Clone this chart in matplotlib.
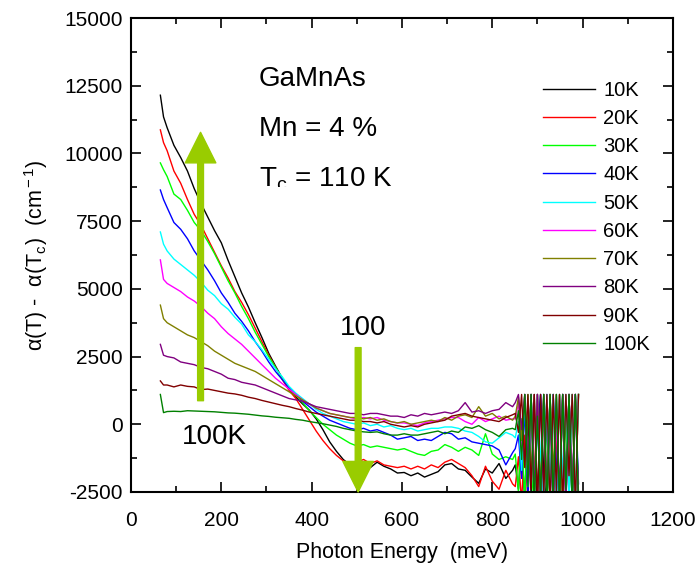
import numpy as np
import matplotlib
matplotlib.use('Agg')
import matplotlib.pyplot as plt
from matplotlib.ticker import MultipleLocator
from matplotlib.transforms import Bbox, TransformedBbox

plt.rcParams['font.family'] = ['Liberation Sans', 'DejaVu Sans']
plt.rcParams['mathtext.fontset'] = 'custom'
plt.rcParams['mathtext.rm'] = 'Liberation Sans'
plt.rcParams['mathtext.it'] = 'Liberation Sans:italic'
plt.rcParams['mathtext.sf'] = 'Liberation Sans'
plt.rcParams['axes.unicode_minus'] = False

# photon energy grid (meV): smooth part then the noisy high-energy tail
energy_smooth = [65, 72] + list(range(80, 846, 15))
energy_noise = list(range(851, 995, 7))
energy = np.array(energy_smooth + energy_noise)

labels = ['10K', '20K', '30K', '40K', '50K', '60K', '70K', '80K', '90K', '100K']
colors = ['#000000', '#ff0000', '#00ff00', '#0000ff', '#00ffff',
          '#ff00ff', '#808000', '#800080', '#800000', '#008000']

d10 = [12150, 11350, 10950, 10300, 9850, 9350, 8700, 8150, 7650, 7150, 6700, 6050, 5450, 4850,
       4330, 3750, 3200, 2620, 2150, 1700, 1300, 1000, 750, 520, 200, -200, -650, -1000, -1300,
       -1500, -1650, -1450, -1600, -1400, -1550, -1650, -1800, -1780, -1900, -1800, -1950, -1850,
       -1750, -1500, -1450, -1650, -1700, -1950, -2180, -1650, -1800, -1450, -2000, -1700]
d20 = [10870, 10400, 10100, 9350, 8900, 8300, 7750, 7350, 6850, 6350, 5850, 5400, 4900, 4500,
       4050, 3550, 3050, 2550, 2100, 1650, 1250, 950, 550, 150, -250, -600, -900, -1150, -1350,
       -1450, -1400, -1300, -1450, -1350, -1500, -1550, -1600, -1550, -1650, -1550, -1650, -1500,
       -1600, -1400, -1300, -1450, -1600, -1900, -2300, -1550, -2100, -2400, -1700, -2200]
d30 = [9650, 9400, 9150, 8500, 8300, 7900, 7450, 7150, 6750, 6300, 5800, 5300, 4850, 4350,
       3900, 3400, 2950, 2500, 2100, 1700, 1350, 1100, 800, 500, 250, 0, -200, -400, -550,
       -700, -800, -750, -850, -800, -850, -900, -950, -900, -1000, -1100, -1150, -1000,
       -950, -750, -850, -1000, -850, -950, -1150, -350, -1100, -1300, -1200, -1300]
d40 = [8650, 8300, 8000, 7450, 7200, 6850, 6400, 6050, 5700, 5300, 4850, 4500, 4100, 3800,
       3450, 3050, 2700, 2300, 1950, 1650, 1350, 1100, 850, 650, 450, 300, 150, 50, -50,
       -150, -200, -150, -250, -200, -300, -400, -550, -500, -450, -600, -550, -600,
       -450, -300, -350, -550, -500, -650, -700, -750, -800, -950, -1500, -1050]
d50 = [7100, 6650, 6400, 6100, 5900, 5700, 5500, 5250, 4950, 4750, 4450, 4250, 3950, 3700,
       3300, 3050, 2750, 2400, 2050, 1750, 1400, 1150, 950, 750, 550, 400, 300, 200, 100,
       50, 0, 50, -50, 0, -100, -50, -150, -200, -150, -250, -200, -150,
       -150, -100, -100, -150, -250, -300, -450, -650, -700, -500, -300, -400]
d60 = [6070, 5350, 5200, 5050, 4900, 4700, 4550, 4350, 4100, 3900, 3600, 3350, 3150, 2950,
       2700, 2450, 2200, 1950, 1700, 1500, 1300, 1100, 900, 750, 600, 500, 400, 350, 300,
       250, 200, 250, 200, 250, 150, 100, 50, 50, 0, -50, 50, 100,
       150, 200, 250, 250, 100, 0, 250, 100, 200, 300, 150, 200]
d70 = [4400, 3900, 3750, 3600, 3450, 3300, 3200, 3050, 2900, 2700, 2550, 2400, 2250, 2150,
       2050, 1950, 1800, 1650, 1500, 1350, 1200, 1050, 900, 750, 600, 500, 400, 350, 300,
       250, 250, 200, 250, 150, 200, 100, 50, 100, 0, 50, 100, 150,
       100, 250, 150, 300, 350, 250, 650, 300, 400, 200, 300, 150]
d80 = [2950, 2550, 2500, 2450, 2300, 2250, 2200, 2100, 2050, 1950, 1850, 1700, 1650, 1550,
       1500, 1450, 1350, 1250, 1150, 1050, 950, 900, 850, 750, 650, 600, 550, 500, 450,
       400, 400, 350, 400, 400, 350, 300, 300, 250, 350, 300, 400, 350,
       400, 450, 400, 500, 800, 450, 500, 400, 500, 550, 800, 650]
d90 = [1600, 1450, 1450, 1380, 1450, 1400, 1380, 1280, 1300, 1250, 1200, 1150, 1120, 1070,
       1000, 950, 880, 820, 760, 700, 650, 580, 520, 450, 400, 350, 300, 250, 200,
       150, 150, 100, 100, 50, 100, 0, -50, -100, -50, -100, 0, 50,
       100, 150, 300, 350, 400, 300, 250, 200, 150, 100, 250, 350]
d100 = [1100, 430, 470, 480, 470, 500, 490, 480, 470, 460, 440, 420, 410, 390,
        370, 340, 310, 290, 260, 240, 220, 180, 150, 100, 60, 20, -30, -80, -150,
        -200, -250, -280, -300, -280, -350, -400, -400, -350, -400, -400, -350, -300,
        -250, -350, -250, -300, -100, -150, -50, -200, -300, -450, -200, -150]

# detector-noise tail above ~850 meV (values saturate at 1100)
n10 = [-1500, -2400, -700, -2800, 300, -2600, 1100, -3000, 1100, -1800, -3000,
       1100, -2200, 600, -3000, 1100, -2500, 1100, -3000, 1100, -2600]
n20 = [-2300, -1200, -2900, -400, -3000, 1100, -2100, 1100, -3000, 900, -2600,
       1100, -3000, -800, 1100, -3000, 1100, -2700, 1100, -3000, 1100]
n30 = [-1100, -2500, 200, -3000, 1100, -1600, -3000, 1100, -2800, 1100, -700,
       -3000, 1100, -2900, 1100, -3000, 400, -2600, 1100, -3000, 1100]
n40 = [-900, -400, -2000, 600, -2800, 1100, -2400, -300, 1100, -3000, 1100,
       -2900, 1100, -1500, -3000, 1100, -2800, 1100, -3000, 1100, -2200]
n50 = [-500, 100, -1700, 1100, -2300, 1100, -3000, 1100, -1200, -3000, 1100,
       -2600, 1100, -3000, 1100, -2000, 1100, -3000, 1100, -2900, 1100]
n60 = [200, 800, -1000, 1100, -2100, 700, -2900, 1100, -3000, 1100, -2700,
       1100, -3000, 200, -2800, 1100, -3000, 1100, -2500, 1100, -3000]
n70 = [300, 1000, -600, 1100, -1900, 1100, -2800, 1100, -2500, 1100, -3000,
       1100, -1800, 1100, -3000, 1100, -2900, 1100, -3000, 1100, -2700]
n80 = [800, 1100, -200, 1100, -1400, 1100, -2600, 1100, -3000, 1100, -2900,
       500, -3000, 1100, -2600, 1100, -3000, 1100, -2800, 1100, -3000]
n90 = [400, -300, 1100, -1600, 1100, -2400, 1100, -3000, 1100, -2700, 1100,
       -3000, 1100, -2500, 1100, -3000, 1100, -1900, 1100, -3000, 1100]
n100 = [-200, 500, -1300, 1100, -2300, 1100, -3000, 300, -2700, 1100, -3000,
        1100, -2800, 1100, -3000, 1100, -2400, 1100, -3000, 1100, -2900]

smooth = [d10, d20, d30, d40, d50, d60, d70, d80, d90, d100]
noise = [n10, n20, n30, n40, n50, n60, n70, n80, n90, n100]

arrow_color = '#99cc00'

fig = plt.figure(figsize=(6.98, 5.74), dpi=100)
ax = fig.add_axes([0.1877, 0.1429, 0.7763, 0.8257])

for s, n, c, lab in zip(smooth, noise, colors, labels):
    ax.plot(energy, s + n, color=c, lw=1.0, label=lab)

ax.set_xlim(0, 1200)
ax.set_ylim(-2500, 15000)
ax.xaxis.set_major_locator(MultipleLocator(200))
ax.xaxis.set_minor_locator(MultipleLocator(100))
ax.yaxis.set_major_locator(MultipleLocator(2500))
ax.yaxis.set_minor_locator(MultipleLocator(1250))
ax.tick_params(which='both', direction='in', top=True, right=True, width=1.2, labelsize=15)
ax.tick_params(which='major', length=7)
ax.tick_params(which='minor', length=4)
ax.tick_params(axis='x', pad=14)
ax.tick_params(axis='y', pad=6)
for sp in ax.spines.values():
    sp.set_linewidth(1.5)

ax.set_xlabel('Photon Energy  (meV)', fontsize=15.5, labelpad=8)
ax.set_ylabel('α(T) -  α(T$_{\\rm c}$)  (cm$^{\\rm -1}$)', fontsize=15.5, labelpad=10)

ax.text(283, 12750, 'GaMnAs', fontsize=20, va='center')
ax.text(283, 10900, 'Mn = 4 %', fontsize=20, va='center')
tc = ax.text(283, 9050, 'T$_{\\rm c}$ = 110 K', fontsize=20, va='center')
tc.set_clip_box(TransformedBbox(Bbox([[0, 1 - 187 / 574], [1, 1]]), fig.transFigure))
tc.set_clip_on(True)

ax.text(514, 3560, '100', fontsize=20, ha='center', va='center')
ax.text(184, -470, '100K', fontsize=20, ha='center', va='center')

arrow_style = 'simple,head_width=22,head_length=22,tail_width=4.2'
ax.annotate('', xy=(154, 10780), xytext=(154, 870),
            arrowprops=dict(arrowstyle=arrow_style, color=arrow_color,
                            mutation_scale=1, shrinkA=0, shrinkB=0), zorder=5)
ax.annotate('', xy=(503, -2500), xytext=(503, 2830),
            arrowprops=dict(arrowstyle=arrow_style, color=arrow_color,
                            mutation_scale=1, shrinkA=0, shrinkB=0), zorder=5)

ax.legend(loc='upper left', bbox_to_anchor=(0.745, 0.885), frameon=False,
          fontsize=14.5, handlelength=2.6, handletextpad=0.4, labelspacing=0.46,
          borderaxespad=0)

fig.savefig('out.png', dpi=100)
